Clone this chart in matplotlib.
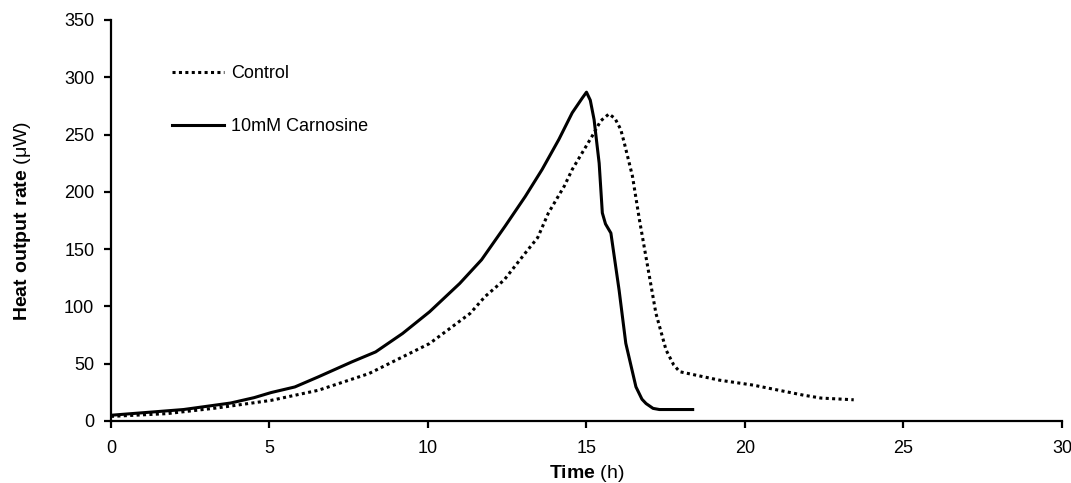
import numpy as np
import matplotlib
matplotlib.use('Agg')
from matplotlib import pyplot as plt

plt.rcParams['font.family'] = ['Liberation Sans', 'DejaVu Sans']
plt.rcParams['mathtext.fontset'] = 'custom'
plt.rcParams['mathtext.bf'] = 'Liberation Sans:bold'
plt.rcParams['mathtext.rm'] = 'Liberation Sans'

# Control (dotted)
control_t = [0, 1.76, 3.35, 5.05, 6.54, 8.14, 10.05, 11.33, 11.8, 12.4, 13.07, 13.46, 13.8,
             14.3, 14.55, 15.18, 15.45, 15.71, 15.9, 16.08, 16.19, 16.45, 16.67, 16.93, 17.19,
             17.51, 17.75, 17.94, 19.2, 20.26, 21.85, 22.4, 23.43]
control_v = [4, 6.4, 11.4, 18, 26.8, 41.4, 67.6, 93.9, 108.6, 123, 146.6, 160, 181.6,
             205, 219.5, 248.7, 262, 268, 264, 254.5, 243, 213.7, 175.7, 134.8, 94,
             62, 49, 43, 35.6, 31.3, 22.5, 20, 18.5]

# 10mM Carnosine (solid)
carn_t = [0, 1.33, 2.29, 3.78, 4.52, 5.05, 5.8, 6.54, 7.6, 8.35, 9.2, 10.05, 11.0, 11.69,
          12.43, 13.07, 13.6, 14.13, 14.55, 14.87, 15.0, 15.12, 15.24, 15.4, 15.5, 15.6,
          15.77, 16.03, 16.24, 16.56, 16.75, 16.88, 17.1, 17.3, 18.35]
carn_v = [5, 7.9, 10, 15.7, 20.4, 24.8, 29.7, 38.5, 51.6, 60.3, 76.4, 95.3, 120, 140.7,
          169.9, 196, 219.5, 245.8, 269, 282, 287, 280, 263, 225, 181.6, 172,
          164, 114, 67.8, 29.8, 19, 15.2, 11, 10, 10]

fig = plt.figure(figsize=(10.71, 4.83), dpi=100)
ax = fig.add_axes([0.1036, 0.1284, 0.888, 0.8302])

ax.plot(control_t, control_v, color='black', lw=2.2, linestyle=(0, (1, 1.1)),
        label='Control')
ax.plot(carn_t, carn_v, color='black', lw=2.2, label='10mM Carnosine')

ax.set_xlim(0, 30)
ax.set_ylim(0, 350)
ax.set_xticks(range(0, 31, 5))
ax.set_yticks(range(0, 351, 50))
ax.spines['top'].set_visible(False)
ax.spines['right'].set_visible(False)
for s in ['left', 'bottom']:
    ax.spines[s].set_linewidth(1.6)
ax.tick_params(width=1.6, length=5, labelsize=13)
ax.tick_params(axis='y', pad=7)
ax.tick_params(axis='x', pad=9)

ax.set_xlabel(r'$\mathbf{Time}$ (h)', fontsize=14, labelpad=4)
ax.set_ylabel(r'$\mathbf{Heat\ output\ rate}$ (μW)', fontsize=14, labelpad=22)

ax.legend(loc='upper left', bbox_to_anchor=(0.047, 0.928), frameon=False,
          handlelength=2.9, handletextpad=0.4, labelspacing=2.0, fontsize=13)

fig.savefig('out.png', dpi=100)
